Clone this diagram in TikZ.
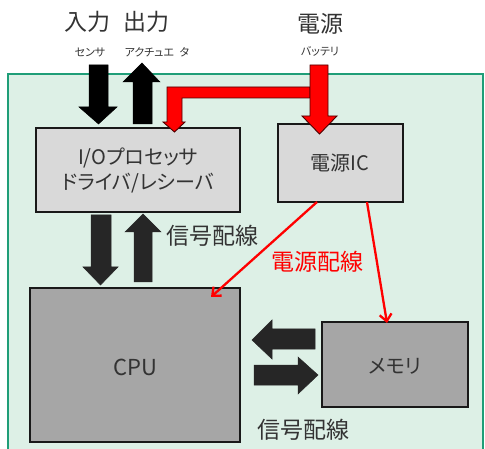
\documentclass[tikz,border=0pt]{standalone}
\usepackage{fontspec}
\setmainfont[RawFeature={+palt}]{Noto Sans CJK JP}
\usetikzlibrary{arrows.meta}
\definecolor{panelfill}{HTML}{DDF0E6}
\definecolor{paneledge}{HTML}{1F9E78}
\definecolor{lightbox}{HTML}{D9D9D9}
\definecolor{darkbox}{HTML}{A6A6A6}
\definecolor{sigarrow}{HTML}{262626}
\definecolor{txt}{HTML}{333333}
\definecolor{pwr}{HTML}{FF0000}
\tikzset{
  box/.style={draw=black!90, line width=2.3pt, inner sep=0pt},
  iobox/.style={box, fill=lightbox},
  cpubox/.style={box, fill=darkbox},
  title/.style={text=txt, font=\fontsize{23}{26}\selectfont, inner sep=0pt},
  sub/.style={text=txt, font=\fontsize{11}{13}\selectfont, inner sep=0pt},
  boxtext/.style={text=txt, font=\fontsize{20}{25}\selectfont, inner sep=0pt, align=center},
  label/.style={text=txt, font=\fontsize{23}{26}\selectfont, inner sep=0pt},
  fatblack/.style={fill=black, draw=black, line width=0.5pt},
  fatsig/.style={fill=sigarrow, draw=sigarrow, line width=0.5pt},
  fatred/.style={fill=pwr, draw=black!70!red, line width=0.9pt, line join=miter},
  wire/.style={draw=pwr, line width=2.3pt, -{Straight Barb[length=7pt,width=12pt,line width=2.3pt]}}
}
\begin{document}
\begin{tikzpicture}[x=1pt,y=-1pt]
\useasboundingbox (0,0) rectangle (485,449);
% panel
\fill[panelfill] (8,74) rectangle (483,449);
\draw[paneledge, line width=2.4pt] (8,449) -- (8,74) -- (483,74) -- (483,449);

% titles
\node[title] (in) at (87,22) {入力};
\node[title] (out) at (146,22) {出力};
\node[title] (pw) at (320,24) {電源};
\node[sub] (sens) at (90,52) {センサ};
\node[sub] (act) at (157,52) {アクチュエ\,\,\,タ};
\node[sub] (bat) at (320,51) {バッテリ};

% boxes
\path[iobox] (36,128) rectangle (240,212);
\node[boxtext] (io) at (138,170) {I/Oプロセッサ\\ドライバ/レシーバ};
\path[iobox] (278,124) rectangle (403,202);
\node[boxtext] (ic) at (340,163) {電源IC};
\path[cpubox] (30,288) rectangle (240,442);
\node[boxtext, font=\fontsize{22}{26}\selectfont] (cpu) at (135,367) {CPU};
\path[cpubox] (322,322) rectangle (468,407);
\node[boxtext] (mem) at (395,366) {メモリ};

% input / output fat arrows
\draw[fatblack] (89,65) -- (108,65) -- (108,107) -- (117,107) -- (98.5,124) -- (79,107) -- (89,107) -- cycle;
\draw[fatblack] (133,124) -- (152,124) -- (152,82) -- (160,82) -- (142,63) -- (123,82) -- (133,82) -- cycle;

% power fat arrows
\draw[fatred] (310,87) -- (310,98) -- (182,98) -- (182,122) -- (185,122) -- (174.5,132) -- (163,122) -- (167,122) -- (167,87) -- cycle;
\draw[fatred] (310,65) -- (328,65) -- (328,116) -- (337,116) -- (319.5,134) -- (302,116) -- (310,116) -- cycle;

% signal fat arrows io <-> cpu
\draw[fatsig] (91,215) -- (111,215) -- (111,267) -- (118,267) -- (100.5,285) -- (83,267) -- (91,267) -- cycle;
\draw[fatsig] (134,282) -- (152,282) -- (152,232) -- (161,232) -- (143,214) -- (125,232) -- (134,232) -- cycle;

% signal fat arrows cpu <-> memory
\draw[fatsig] (315,329) -- (315,349) -- (272,349) -- (272,359) -- (252,340) -- (272,320) -- (272,329) -- cycle;
\draw[fatsig] (254,365) -- (298,365) -- (298,357) -- (318,375) -- (298,394) -- (298,385) -- (254,385) -- cycle;

% labels
\node[label] (sig1) at (212,236) {信号配線};
\node[label, text=pwr] (pwl) at (317,262) {電源配線};
\node[label] (sig2) at (303,430) {信号配線};

% power wires
\coordinate (icA) at (317,202);
\coordinate (icB) at (367,202);
\coordinate (cpuT) at (211,297);
\coordinate (memT) at (387,323);
\draw[wire] (icA) -- (cpuT);
\draw[wire] (icB) -- (memT);
\end{tikzpicture}
\end{document}
